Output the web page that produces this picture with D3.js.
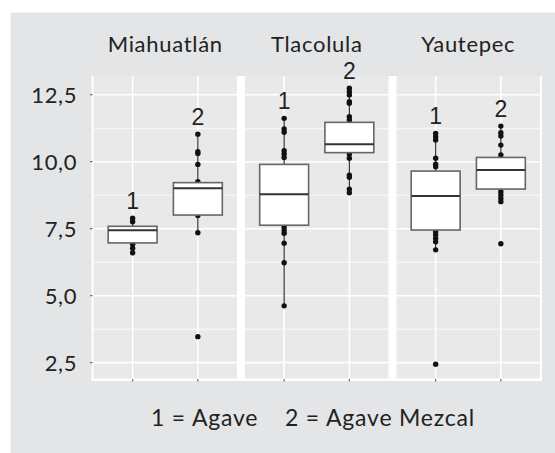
<!DOCTYPE html>
<html><head><meta charset="utf-8">
<script src="https://cdn.jsdelivr.net/npm/d3@7"></script>
<style>html,body{margin:0;padding:0;background:#fff;}svg{display:block;}</style>
</head><body>
<script>
const regions = ["Miahuatlán", "Tlacolula", "Yautepec"];
const groups = ["1", "2"];
const q1 = [[6.97, 8.01], [7.63, 10.34], [7.45, 8.98]];
const medians = [[7.44, 9.01], [8.79, 10.65], [8.72, 9.69]];
const q3 = [[7.59, 9.22], [9.90, 11.47], [9.65, 10.16]];
const whiskerLow = [[6.60, 7.35], [4.62, 8.84], [6.71, 8.51]];
const whiskerHigh = [[7.89, 11.03], [11.62, 12.74], [11.06, 11.33]];
const points = [
  [[7.89, 7.76, 6.92, 6.77, 6.60],
   [11.03, 10.37, 10.31, 9.90, 9.25, 7.99, 7.35, 3.47]],
  [[11.62, 11.22, 11.10, 10.41, 10.29, 10.16, 7.57, 7.45, 7.33, 6.96, 6.23, 4.62],
   [12.74, 12.61, 12.49, 12.24, 12.18, 11.68, 11.56, 10.29, 10.13, 9.50, 9.42, 8.97, 8.84]],
  [[11.06, 10.93, 10.81, 10.13, 9.91, 9.81, 7.39, 7.27, 7.14, 7.01, 6.71, 2.44],
   [11.33, 11.08, 10.96, 10.62, 10.25, 8.88, 8.76, 8.63, 8.51, 6.94]]
];
const yTicks = [2.5, 5.0, 7.5, 10.0, 12.5];
const yMinor = [3.75, 6.25, 8.75, 11.25];
const legendText = "1 = Agave    2 = Agave Mezcal";

const W = 555, H = 453;
const svg = d3.select("body").append("svg").attr("width", W).attr("height", H);

svg.append("rect").attr("x", 10.5).attr("y", 12.5).attr("width", W - 10.5).attr("height", H - 12.5).attr("fill", "#e4e5e7");

const panelTop = 76, panelBottom = 378.5;
const y = d3.scaleLinear().domain([1.89, 13.2]).range([379, 76]);

svg.append("rect").attr("x", 91.5).attr("y", panelTop).attr("width", 542 - 91.5).attr("height", 381 - panelTop).attr("fill", "#ffffff");

const panelX = d3.scaleBand().domain(regions).range([93.5, 540]).paddingInner(0.053);

const fontMain = "Lato, 'Open Sans', sans-serif";

regions.forEach((reg, i) => {
  const x0 = panelX(reg), pw = panelX.bandwidth();
  const g = svg.append("g");
  g.append("rect").attr("x", x0).attr("y", panelTop).attr("width", pw).attr("height", panelBottom - panelTop).attr("fill", "#e9e9e9");
  const x = d3.scalePoint().domain(groups).range([x0, x0 + pw]).padding(0.6);
  const step = x.step();
  yMinor.forEach(v => g.append("line").attr("x1", x0).attr("x2", x0 + pw).attr("y1", y(v)).attr("y2", y(v)).attr("stroke", "#fff").attr("stroke-width", 0.8));
  yTicks.forEach(v => g.append("line").attr("x1", x0).attr("x2", x0 + pw).attr("y1", y(v)).attr("y2", y(v)).attr("stroke", "#fff").attr("stroke-width", 1.6));
  groups.forEach(gr => g.append("line").attr("x1", x(gr)).attr("x2", x(gr)).attr("y1", panelTop).attr("y2", panelBottom).attr("stroke", "#fff").attr("stroke-width", 1.6));
  groups.forEach(gr => svg.append("line").attr("x1", x(gr)).attr("x2", x(gr)).attr("y1", 379).attr("y2", 381.5).attr("stroke", "#555").attr("stroke-width", 1));
  svg.append("text").attr("x", x0 + pw / 2).attr("y", 52).attr("text-anchor", "middle")
    .attr("font-family", fontMain).attr("font-size", 22).attr("letter-spacing", 0.7).attr("fill", "#222").text(reg);

  groups.forEach((gr, j) => {
    const cx = x(gr), bw = step * 0.75;
    g.append("line").attr("x1", cx).attr("x2", cx).attr("y1", y(whiskerLow[i][j])).attr("y2", y(whiskerHigh[i][j]))
      .attr("stroke", "#333").attr("stroke-width", 1.2);
    g.selectAll(null).data(points[i][j]).enter().append("circle")
      .attr("cx", cx).attr("cy", d => y(d)).attr("r", 2.7).attr("fill", "#111");
    g.append("rect").attr("x", cx - bw / 2).attr("y", y(q3[i][j])).attr("width", bw).attr("height", y(q1[i][j]) - y(q3[i][j]))
      .attr("fill", "#fff").attr("stroke", "#666").attr("stroke-width", 1.6);
    g.append("line").attr("x1", cx - bw / 2).attr("x2", cx + bw / 2).attr("y1", y(medians[i][j])).attr("y2", y(medians[i][j]))
      .attr("stroke", "#333").attr("stroke-width", 2);
    const mx = d3.max(points[i][j].concat([whiskerHigh[i][j]]));
    svg.append("text").attr("x", cx).attr("y", y(mx) - 9).attr("text-anchor", "middle")
      .attr("font-family", "'Liberation Sans', Arial, sans-serif").attr("font-size", 23).attr("fill", "#222").text(gr);
  });
});

const fmt = v => d3.format(".1f")(v).replace(".", ",");
yTicks.forEach(v => {
  svg.append("line").attr("x1", 90).attr("x2", 92.5).attr("y1", y(v)).attr("y2", y(v)).attr("stroke", "#555").attr("stroke-width", 1);
  svg.append("text").attr("x", 77).attr("y", y(v)).attr("dy", "0.36em").attr("text-anchor", "end")
    .attr("font-family", fontMain).attr("font-size", 22).attr("letter-spacing", 0.6).attr("fill", "#222").text(fmt(v));
});

svg.append("text").attr("x", 313).attr("y", 426).attr("text-anchor", "middle")
  .style("white-space", "pre")
  .attr("font-family", fontMain).attr("font-size", 23).attr("letter-spacing", 0.8).attr("fill", "#222").text(legendText);
</script>
</body></html>
